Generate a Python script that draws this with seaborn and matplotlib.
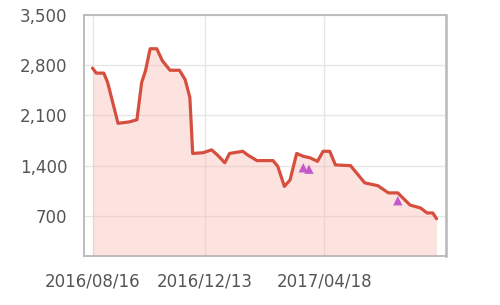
import matplotlib
matplotlib.use("Agg")
import matplotlib.pyplot as plt
import matplotlib.dates as mdates
import matplotlib.ticker as mticker
import seaborn as sns
import pandas as pd

dates = ["2016-08-16", "2016-08-20", "2016-08-28", "2016-09-01", "2016-09-12",
         "2016-09-24", "2016-10-02", "2016-10-07", "2016-10-11", "2016-10-16",
         "2016-10-23", "2016-10-29", "2016-11-06", "2016-11-16", "2016-11-22",
         "2016-11-27", "2016-11-30", "2016-12-11", "2016-12-20", "2016-12-26",
         "2017-01-03", "2017-01-08", "2017-01-22", "2017-01-27", "2017-02-06",
         "2017-02-23", "2017-02-28", "2017-03-07", "2017-03-13", "2017-03-20",
         "2017-03-27", "2017-04-03", "2017-04-11", "2017-04-17", "2017-04-24",
         "2017-04-30", "2017-05-16", "2017-05-31", "2017-06-14", "2017-06-25",
         "2017-07-05", "2017-07-18", "2017-07-29", "2017-08-05", "2017-08-11",
         "2017-08-15"]
values = [2760, 2690, 2690, 2560, 1990,
          2010, 2040, 2560, 2720, 3030,
          3030, 2860, 2730, 2730, 2600,
          2350, 1570, 1580, 1620, 1550,
          1440, 1570, 1600, 1550, 1470,
          1470, 1390, 1110, 1200, 1570,
          1530, 1510, 1460, 1600, 1600,
          1410, 1400, 1160, 1120, 1020,
          1020, 850, 810, 740, 740,
          660]

marker_dates = ["2017-03-27", "2017-04-02", "2017-07-05"]
marker_values = [1370, 1350, 910]

xtick_dates = ["2016-08-16", "2016-12-13", "2017-04-18"]
ytick_values = [700, 1400, 2100, 2800, 3500]

df = pd.DataFrame({"date": pd.to_datetime(dates), "value": values})
mk = pd.DataFrame({"date": pd.to_datetime(marker_dates), "value": marker_values})

sns.set_style("white")
fig = plt.figure(figsize=(5, 3.05), dpi=100)
ax = fig.add_axes([0.168, 0.1607, 0.724, 0.79])

ymin = 140
ax.fill_between(df["date"], df["value"], ymin, color="#f8b0a8", alpha=0.35,
                linewidth=0, zorder=1)
sns.lineplot(data=df, x="date", y="value", ax=ax, color="#d64f3e",
             linewidth=2.3, zorder=3)
sns.scatterplot(data=mk, x="date", y="value", ax=ax, marker="^", s=45,
                color="#c558cc", edgecolor="none", zorder=4)

ax.set_xlim(pd.Timestamp("2016-08-07"), pd.Timestamp("2017-08-25"))
ax.set_ylim(ymin, 3500)
ax.set_xticks(pd.to_datetime(xtick_dates))
ax.xaxis.set_major_formatter(mdates.DateFormatter("%Y/%m/%d"))
ax.set_yticks(ytick_values)
ax.yaxis.set_major_formatter(mticker.FuncFormatter(lambda v, p: f"{int(v):,}"))

ax.grid(True, color="#e6e6e6", linewidth=1.0, zorder=0)
ax.set_axisbelow(True)
for side in ["left", "bottom", "top", "right"]:
    ax.spines[side].set_color("#b8b8b8")
    ax.spines[side].set_linewidth(1.3)
ax.spines["right"].set_linewidth(1.8)
ax.tick_params(axis="both", length=7, width=1, color="#d0d0d0",
               labelsize=12, labelcolor="#555555", pad=5)
ax.set_xlabel("")
ax.set_ylabel("")

fig.savefig("out.png", dpi=100, facecolor="white")
